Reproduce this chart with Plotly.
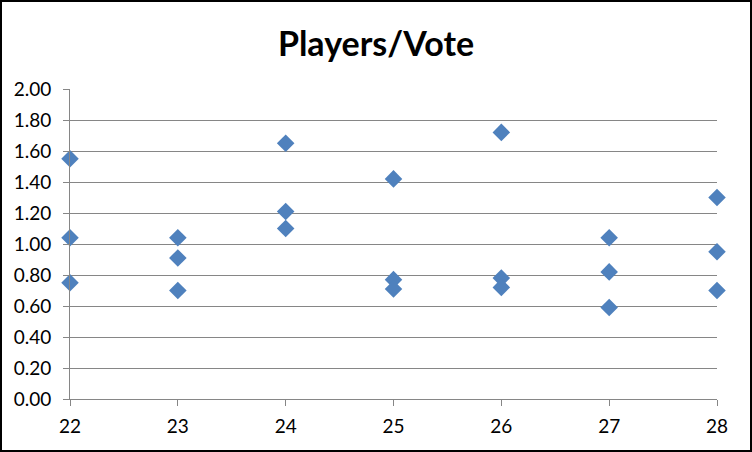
import plotly.graph_objects as go

# Data
age = [22, 22, 22,
       23, 23, 23,
       24, 24, 24,
       25, 25, 25,
       26, 26, 26,
       27, 27, 27,
       28, 28, 28]
players_per_vote = [1.55, 1.04, 0.75,
                    1.04, 0.91, 0.70,
                    1.65, 1.21, 1.10,
                    1.42, 0.77, 0.71,
                    1.72, 0.78, 0.72,
                    1.04, 0.82, 0.59,
                    1.30, 0.95, 0.70]
y_tickvals = [0.0, 0.2, 0.4, 0.6, 0.8, 1.0, 1.2, 1.4, 1.6, 1.8, 2.0]
y_ticktext = [f"{v:.2f}" for v in y_tickvals]
x_tickvals = [22, 23, 24, 25, 26, 27, 28]

W, H = 752, 452
L, R, T, B = 70, 35, 89, 53
pw, ph = W - L - R, H - T - B

font_family = "Lato, Carlito, Calibri, sans-serif"

fig = go.Figure()
fig.add_trace(go.Scatter(
    x=age, y=players_per_vote, mode="markers", cliponaxis=False,
    marker=dict(symbol="diamond", size=13.5, color="#4F81BD",
                line=dict(width=0)),
    showlegend=False, hoverinfo="x+y"))

fig.update_layout(
    width=W, height=H,
    margin=dict(l=L, r=R, t=T, b=B),
    paper_bgcolor="white", plot_bgcolor="white",
    font=dict(family=font_family, color="black", size=19),
    title=dict(text="<b>Players/Vote</b>", x=0.5, xref="container", xanchor="center",
               y=1 - 44 / H, yanchor="middle", yref="container",
               font=dict(family=font_family, size=34, color="black")),
    xaxis=dict(range=[22, 28], tickvals=x_tickvals, showgrid=False,
               zeroline=False, showline=True, linecolor="#868686", linewidth=1,
               ticks="outside", ticklen=6, tickcolor="#868686",
               ticklabelstandoff=4, tickfont=dict(size=19)),
    yaxis=dict(range=[0, 2], tickvals=y_tickvals, ticktext=y_ticktext,
               showgrid=True, gridcolor="#868686", gridwidth=1,
               zeroline=False, showline=True, linecolor="#868686", linewidth=1,
               ticks="outside", ticklen=6, tickcolor="#868686",
               ticklabelstandoff=8, tickfont=dict(size=19)),
)

# outer chart border
fig.add_shape(type="rect", xref="paper", yref="paper",
              x0=-(L - 1) / pw, x1=1 + (R - 1) / pw,
              y0=-(B - 1) / ph, y1=1 + (T - 1) / ph,
              line=dict(color="black", width=2), layer="above")

fig.write_html("out.html")
